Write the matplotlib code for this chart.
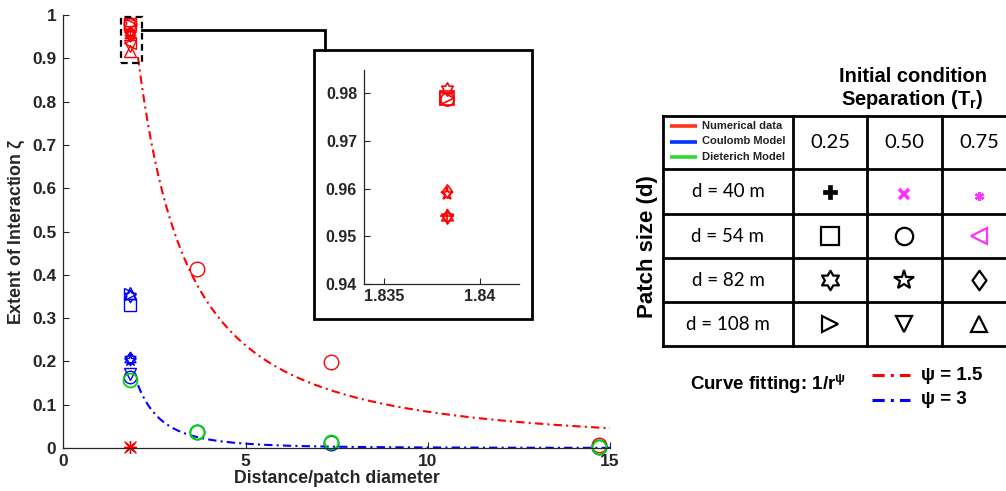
import numpy as np
import matplotlib
matplotlib.use("Agg")
import matplotlib.pyplot as plt
from matplotlib.path import Path
from matplotlib.patches import Rectangle

plt.rcParams['font.family'] = ['Liberation Sans', 'DejaVu Sans']
plt.rcParams['font.weight'] = 'bold'
plt.rcParams['mathtext.fontset'] = 'custom'
plt.rcParams['mathtext.rm'] = 'Liberation Sans:bold'
plt.rcParams['mathtext.bf'] = 'Liberation Sans:bold'
plt.rcParams['mathtext.it'] = 'Liberation Sans:bold'

# ---------------- data ----------------
r_near = 1.8383                      # distance / patch diameter of the closest pair
r_far = [3.676, 7.352, 14.70]

num_near_markers = ['hexagram', 's', 'o', '>', 'd', '*', '+', 'hexagram', 'd', '<', 'v', '^']
num_near_values = [0.9810, 0.9790, 0.9788, 0.9791, 0.9596, 0.9588, 0.9542, 0.9540, 0.9543,
                   0.935, 0.928, 0.918]
num_zero_markers = ['x', 'asterisk']
num_zero_values = [0.002, 0.002]
num_far_values = [0.413, 0.199, 0.006]

coul_near_markers = ['^', '>', 'hexagram', 's', 'd', 'hexagram', '*', 'v', 'o']
coul_near_values = [0.358, 0.355, 0.352, 0.330, 0.207, 0.205, 0.203, 0.172, 0.165]
coul_far_values = [0.036, 0.012, 0.003]

diet_near_value = 0.158
diet_far_values = [0.037, 0.014, 0.002]

fit_psi = [1.5, 3]
fit_amp = [2.65, 1.25]
fit_start = 2.05

row_labels = ['d = 40 m', 'd = 54 m', 'd = 82 m', 'd = 108 m']
col_labels = ['0.25', '0.50', '0.75']
table_markers = [['P', 'x', 'asterisk'],
                 ['s', 'o', '<'],
                 ['hexagram', '*', 'd'],
                 ['>', 'v', '^']]
table_colors = [['black', 'magenta', 'magenta'],
                ['black', 'black', 'magenta'],
                ['black', 'black', 'black'],
                ['black', 'black', 'black']]
legend_labels = ['Numerical data', 'Coulomb Model', 'Dieterich Model']

RED = (1.0, 0.0, 0.0)
BLUE = (0.0, 0.0, 1.0)
GREEN = (0.0, 0.85, 0.0)
MAGENTA = (1.0, 0.2, 1.0)
TXT = '#262626'


def hexagram_path():
    k = np.arange(12)
    ang = np.deg2rad(90 + 30 * k)
    rad = np.where(k % 2 == 0, 1.0, 1 / np.sqrt(3))
    v = np.column_stack([rad * np.cos(ang), rad * np.sin(ang)])
    v = np.vstack([v, v[:1]])
    return Path(v, closed=True)


def diamond_path(w=0.72):
    v = [(0, 1), (w, 0), (0, -1), (-w, 0), (0, 1)]
    return Path(v, closed=True)


MK = {'hexagram': hexagram_path(), 'asterisk': (8, 2, 0), 'd': diamond_path()}


def mk(m):
    return MK.get(m, m)


def open_marker(ax, x, y, m, color, ms=9, mew=1.0, **kw):
    filled = m not in ('x', '+', 'asterisk')
    ax.plot([x], [y], ls='none', marker=mk(m), ms=ms, mew=mew,
            mec=color, mfc='none' if filled else color, **kw)


W, H = 1006, 491
fig = plt.figure(figsize=(W / 100, H / 100), dpi=100)

# ---------------- main axes ----------------
ax = fig.add_axes([63.3 / W, 1 - 448 / H, (610 - 63.3) / W, (448 - 15) / H])
ax.set_xlim(0, 15)
ax.set_ylim(0, 1)
for s in ('top', 'right'):
    ax.spines[s].set_visible(False)
for s in ('left', 'bottom'):
    ax.spines[s].set_color(TXT)
    ax.spines[s].set_linewidth(0.9)
ax.tick_params(direction='in', length=4, width=0.8, color=TXT, labelcolor=TXT, labelsize=12.5)
ax.tick_params(axis='y', pad=5)
ax.tick_params(axis='x', pad=4)
ax.set_xticks([0, 5, 10, 15])
ax.set_xticklabels(['0', '5', '10', '15'], fontweight='bold')
yt = np.round(np.arange(0, 1.01, 0.1), 1)
ax.set_yticks(yt)
ax.set_yticklabels(['0'] + [f'{v:.1f}' for v in yt[1:-1]] + ['1'], fontweight='bold')
ax.set_xlabel('Distance/patch diameter', fontsize=12.8, fontweight='bold', color=TXT, labelpad=1)
ax.set_ylabel('Extent of Interaction $\\mathbf{\u03b6}$', fontsize=12.8, fontweight='bold',
              color=TXT, labelpad=4)

dash = (0, (4, 2, 1, 2))
for psi, amp, col in zip(fit_psi, fit_amp, (RED, BLUE)):
    r = np.linspace(fit_start, 15, 400)
    ax.plot(r, amp / r ** psi, color=col, ls=dash, lw=1.5, clip_on=False)

for m, v in zip(num_near_markers, num_near_values):
    open_marker(ax, r_near, v, m, RED, clip_on=False)
for m, v in zip(num_zero_markers, num_zero_values):
    open_marker(ax, r_near, v, m, RED, clip_on=False)
for m, v in zip(coul_near_markers, coul_near_values):
    open_marker(ax, r_near, v, m, BLUE, clip_on=False)
open_marker(ax, r_near, diet_near_value, 'o', GREEN, ms=10, mew=1.3, clip_on=False)
for x, v in zip(r_far, num_far_values):
    open_marker(ax, x, v, 'o', RED, ms=10.5, clip_on=False)
for x, v in zip(r_far, coul_far_values):
    open_marker(ax, x, v, 'o', BLUE, ms=10.5, clip_on=False)
for x, v in zip(r_far, diet_far_values):
    open_marker(ax, x, v, 'o', GREEN, ms=10, mew=1.4, clip_on=False)

# dashed box around the zoomed cluster
ax.add_patch(Rectangle((1.59, 0.889), 0.57, 0.106, fill=False, ls=(0, (3, 2)),
                       lw=1.6, ec='black', clip_on=False, zorder=5))

# ---------------- inset ----------------
axi = fig.add_axes([364 / W, 1 - 284 / H, (519 - 364) / W, (284 - 70) / H])
axi.set_xlim(1.83396, 1.84203)
axi.set_ylim(0.94, 0.9849)
for s in ('top', 'right'):
    axi.spines[s].set_visible(False)
for s in ('left', 'bottom'):
    axi.spines[s].set_color(TXT)
    axi.spines[s].set_linewidth(0.9)
axi.tick_params(direction='in', length=4, width=0.8, color=TXT, labelcolor=TXT, labelsize=11.5)
axi.tick_params(axis='y', pad=5)
axi.set_xticks([1.835, 1.84])
axi.set_xticklabels(['1.835', '1.84'], fontweight='bold')
axi.set_yticks([0.94, 0.95, 0.96, 0.97, 0.98])
axi.set_yticklabels(['0.94', '0.95', '0.96', '0.97', '0.98'], fontweight='bold')
for m, v in zip(num_near_markers, num_near_values):
    open_marker(axi, r_near, v, m, RED, ms=9.5, mew=1.2)

# ---------------- overlay in figure pixels ----------------
ov = fig.add_axes([0, 0, 1, 1], zorder=10)
ov.set_xlim(0, W)
ov.set_ylim(H, 0)
ov.axis('off')
ov.patch.set_visible(False)

ov.add_patch(Rectangle((314, 50), 218, 269, fill=False, lw=2.0, ec='black'))
ov.plot([142, 325, 325], [30, 30, 50], color='black', lw=2.0, solid_joinstyle='miter')

# table grid
vx = [663, 793, 867, 942, 1016]
hy = [116, 169, 214, 258, 302, 346]
for x in vx:
    ov.plot([x, x], [hy[0], hy[-1]], color='black', lw=2.0, clip_on=False,
            solid_capstyle='projecting')
for y in hy:
    ov.plot([vx[0], vx[-1]], [y, y], color='black', lw=2.0, clip_on=False,
            solid_capstyle='projecting')

ov.text(913, 76, 'Initial condition', ha='center', va='center', fontsize=14.5,
        fontweight='bold', color='black')
ov.text(912, 99, 'Separation (T$_{\\mathbf{r}}$)', ha='center', va='center',
        fontsize=14.5, fontweight='bold', color='black')
ov.text(648, 247, 'Patch size (d)', ha='center', va='center', rotation=90,
        fontsize=16, fontweight='bold', color='black')

cell_font = ['Lato', 'DejaVu Sans']
col_cx = [(vx[i] + vx[i + 1]) / 2 for i in range(1, 4)]
row_cy = [(hy[i] + hy[i + 1]) / 2 for i in range(1, 5)]
for cx, lab in zip(col_cx, col_labels):
    ov.text(cx, (hy[0] + hy[1]) / 2, lab, ha='center', va='center', fontsize=14.5,
            family=cell_font, fontweight='normal', color='black')
for cy, lab in zip(row_cy, row_labels):
    ov.text((vx[0] + vx[1]) / 2, cy, lab, ha='center', va='center', fontsize=13.5,
            family=cell_font, fontweight='normal', color='black')

for i, cy in enumerate(row_cy):
    for j, cx in enumerate(col_cx):
        m = table_markers[i][j]
        c = MAGENTA if table_colors[i][j] == 'magenta' else 'black'
        if m == 'P':
            ov.plot([cx], [cy], ls='none', marker='P', ms=10, mfc=c, mec=c, mew=0.5)
        elif m == 'x':
            ov.plot([cx], [cy + 2], ls='none', marker='x', ms=6.5, mec=c, mew=2.6)
        elif m == 'asterisk':
            ov.plot([cx], [cy + 4], ls='none', marker=(6, 2, 0), ms=6.5, mec=c, mew=1.6)
        else:
            size = {'s': 12.5, 'o': 12.5, 'hexagram': 14, '*': 15, 'd': 14}.get(m, 11.5)
            ov.plot([cx], [cy], ls='none', marker=mk(m), ms=size,
                    mfc='none', mec=c, mew=1.6)

leg_cols = [(1.0, 0.2, 0.1), (0.0, 0.2, 1.0), (0.2, 0.85, 0.2)]
for k, (lab, c) in enumerate(zip(legend_labels, leg_cols)):
    y = 126 + k * 15.5
    ov.plot([670, 697], [y, y], color=c, lw=2.6, solid_capstyle='butt')
    ov.text(702, y, lab, ha='left', va='center', fontsize=8, fontweight='bold', color='#222222')

# curve-fitting legend
ov.text(690, 384, 'Curve fitting: 1/r$^{\\mathbf{\u03c8}}$', ha='left', va='center',
        fontsize=13.5, fontweight='bold', color='black')
for y, c, lab in ((375, RED, '\u03c8 = 1.5'), (400, BLUE, '\u03c8 = 3')):
    ov.plot([872, 910], [y, y], color=c, ls=dash, lw=2.2)
    ov.text(921, y, lab, ha='left', va='center', fontsize=13.5, fontweight='bold', color='black')

fig.savefig('out.png', dpi=100)
